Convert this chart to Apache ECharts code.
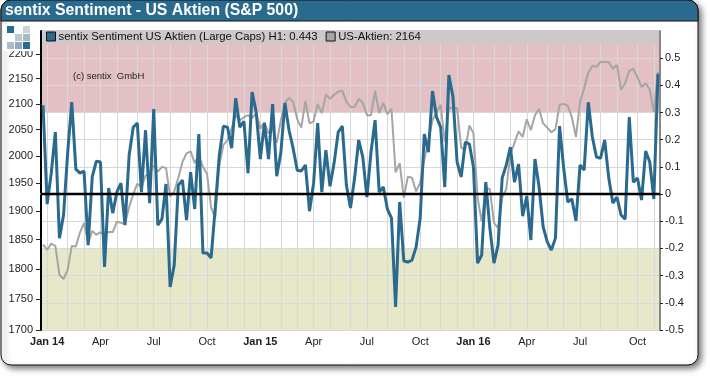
<!DOCTYPE html>
<html>
<head>
<meta charset="utf-8">
<title>sentix Sentiment - US Aktien (S&P 500)</title>
<script src="https://cdn.jsdelivr.net/npm/echarts@6/dist/echarts.min.js"></script>
<style>
  html, body { margin: 0; padding: 0; background: #fff; }
  #chart { width: 710px; height: 376px; }
</style>
</head>
<body>
<div id="chart"></div>
<script>
// weekly survey dates (Fridays), yy-mm-dd
const weeks = [
  '13-12-27',
  '14-01-03','14-01-10','14-01-17','14-01-24','14-01-31','14-02-07','14-02-14','14-02-21','14-02-28',
  '14-03-07','14-03-14','14-03-21','14-03-28','14-04-04','14-04-11','14-04-18','14-04-25','14-05-02',
  '14-05-09','14-05-16','14-05-23','14-05-30','14-06-06','14-06-13','14-06-20','14-06-27','14-07-04',
  '14-07-11','14-07-18','14-07-25','14-08-01','14-08-08','14-08-15','14-08-22','14-08-29','14-09-05',
  '14-09-12','14-09-19','14-09-26','14-10-03','14-10-10','14-10-17','14-10-24','14-10-31','14-11-07',
  '14-11-14','14-11-21','14-11-28','14-12-05','14-12-12','14-12-19','14-12-26',
  '15-01-02','15-01-09','15-01-16','15-01-23','15-01-30','15-02-06','15-02-13','15-02-20','15-02-27',
  '15-03-06','15-03-13','15-03-20','15-03-27','15-04-03','15-04-10','15-04-17','15-04-24','15-05-01',
  '15-05-08','15-05-15','15-05-22','15-05-29','15-06-05','15-06-12','15-06-19','15-06-26','15-07-03',
  '15-07-10','15-07-17','15-07-24','15-07-31','15-08-07','15-08-14','15-08-21','15-08-28','15-09-04',
  '15-09-11','15-09-18','15-09-25','15-10-02','15-10-09','15-10-16','15-10-23','15-10-30','15-11-06',
  '15-11-13','15-11-20','15-11-27','15-12-04','15-12-11','15-12-18','15-12-25',
  '16-01-01','16-01-08','16-01-15','16-01-22','16-01-29','16-02-05','16-02-12','16-02-19','16-02-26',
  '16-03-04','16-03-11','16-03-18','16-03-25','16-04-01','16-04-08','16-04-15','16-04-22','16-04-29',
  '16-05-06','16-05-13','16-05-20','16-05-27','16-06-03','16-06-10','16-06-17','16-06-24','16-07-01',
  '16-07-08','16-07-15','16-07-22','16-07-29','16-08-05','16-08-12','16-08-19','16-08-26','16-09-02',
  '16-09-09','16-09-16','16-09-23','16-09-30','16-10-07','16-10-14','16-10-21','16-10-28','16-11-04',
  '16-11-11'
];

const sentixValues = [
  0.327,-0.037,0.077,0.228,-0.162,-0.077,0.151,0.338,0.092,0.077,
  0.085,-0.188,0.063,0.121,0.118,-0.268,0.022,-0.070,0.007,0.040,
  -0.114,0.143,0.246,0.261,0.007,0.235,-0.033,0.313,-0.114,-0.092,
  0.037,-0.342,-0.261,0.033,0.051,-0.096,0.081,-0.055,0.221,-0.217,
  -0.217,-0.235,-0.051,0.143,0.250,0.246,0.169,0.353,0.246,0.268,
  0.077,0.375,0.301,0.129,0.261,0.129,0.331,0.066,0.151,0.335,
  0.235,0.169,0.088,0.085,0.107,-0.063,0.040,0.261,0.007,0.162,
  0.029,0.114,0.228,0.250,0.033,-0.051,0.059,0.199,0.136,-0.011,
  0.154,0.272,0.007,0.026,-0.055,-0.088,-0.415,-0.029,-0.246,-0.250,
  -0.243,-0.195,-0.088,0.221,0.154,0.379,0.283,0.246,0.026,0.438,
  0.357,0.118,0.063,0.191,0.184,0.099,-0.254,-0.224,0.044,-0.125,
  -0.254,-0.188,0.059,0.107,0.173,0.044,0.110,-0.081,-0.007,-0.169,
  0.129,0.026,-0.121,-0.176,-0.206,-0.162,0.250,0.096,-0.029,-0.018,
  -0.099,0.107,0.088,0.338,0.210,0.136,0.132,0.199,0.059,-0.033,
  -0.011,-0.077,-0.092,0.283,0.044,0.059,-0.022,0.158,0.118,-0.018,
  0.443
];

const spxValues = [
  1841,1832,1843,1839,1790,1783,1798,1839,1838,1862,
  1879,1843,1865,1858,1863,1858,1863,1863,1881,1879,
  1877,1907,1930,1949,1942,1964,1967,1983,1971,1980,
  1978,1926,1935,1960,1989,2005,2009,1987,2001,1980,
  1967,1906,1888,1983,2021,2030,2052,2078,2068,2074,
  2078,2072,2082,2052,2064,2043,2052,2025,2068,2102,
  2112,2104,2070,2054,2106,2062,2066,2100,2082,2118,
  2110,2118,2124,2126,2104,2094,2094,2110,2102,2078,
  2078,2126,2082,2102,2080,2090,1970,1987,1924,1962,
  1960,1935,1951,1993,2030,2068,2084,2098,2027,2092,
  2092,2092,2016,2012,2058,2043,1924,1881,1942,1939,
  1879,1870,1924,1939,2003,2025,2047,2036,2070,2049,
  2078,2090,2062,2054,2045,2051,2098,2100,2096,2074,
  2036,2104,2131,2162,2176,2174,2184,2184,2184,2170,
  2178,2128,2141,2166,2170,2153,2133,2141,2128,2084,
  2164
];

const spxTicks = [1700,1750,1800,1850,1900,1950,2000,2050,2100,2150,2200];
const sentixTicks = [0.5,0.4,0.3,0.2,0.1,0,-0.1,-0.2,-0.3,-0.4,-0.5];

// x axis labels, keyed by the first survey date of the quarter
const quarterLabels = {
  '14-01-03':'Jan 14','14-04-04':'Apr','14-07-04':'Jul','14-10-03':'Oct',
  '15-01-02':'Jan 15','15-04-03':'Apr','15-07-03':'Jul','15-10-02':'Oct',
  '16-01-01':'Jan 16','16-04-01':'Apr','16-07-01':'Jul','16-10-07':'Oct'
};

const TEAL = '#2a6a8e';
const sentixName = 'sentix Sentiment US Aktien (Large Caps) H1: ' + sentixValues[sentixValues.length - 1];
const spxName = 'US-Aktien: ' + spxValues[spxValues.length - 1];

function isMonthStart(idx) {
  return idx > 0 && weeks[idx].slice(0, 5) !== weeks[idx - 1].slice(0, 5);
}
function isQuarterStart(idx) {
  return quarterLabels[weeks[idx]] !== undefined;
}

// sentix logo, 3x3 blocks
function logoBlock(x, y, color) {
  return { type: 'rect', z: 8, shape: { x: x, y: y, width: 7, height: 7 }, style: { fill: color } };
}

const chart = echarts.init(document.getElementById('chart'));

const option = {
  animation: false,
  textStyle: { fontFamily: '"Liberation Sans", Arial, sans-serif' },
  title: {
    text: 'sentix Sentiment - US Aktien (S&P 500)',
    left: 5, top: 2, padding: 0, z: 12,
    textStyle: { color: '#fff', fontSize: 15.8, fontWeight: 'bold', lineHeight: 18 }
  },
  grid: { left: 41, right: 50, top: 31, bottom: 46 },
  legend: {
    left: 46, top: 31, padding: 0, itemGap: 8, z: 9,
    itemWidth: 9, itemHeight: 9,
    selectedMode: false,
    textStyle: { fontSize: 11.35, color: '#111', padding: [1, 0, 0, -2] },
    data: [
      { name: sentixName, icon: 'rect', itemStyle: { color: TEAL, borderColor: '#111', borderWidth: 1 } },
      { name: spxName, icon: 'rect', itemStyle: { color: '#a5a5a5', borderColor: '#111', borderWidth: 1 } }
    ]
  },
  xAxis: {
    type: 'category',
    data: weeks,
    boundaryGap: true,
    axisLine: { lineStyle: { color: '#888', width: 2 } },
    axisTick: { alignWithLabel: true, length: 3, lineStyle: { color: '#222' }, interval: function (i) { return isQuarterStart(i); } },
    axisLabel: {
      interval: function (i) { return isQuarterStart(i); },
      margin: 6,
      fontSize: 11,
      color: '#222',
      formatter: function (val) {
        const txt = quarterLabels[val] || '';
        return txt.indexOf('Jan') === 0 ? '{b|' + txt + '}' : txt;
      },
      rich: { b: { fontWeight: 'bold', fontSize: 11, color: '#222' } }
    },
    splitLine: {
      show: true,
      alignWithLabel: true,
      interval: function (i) { return isMonthStart(i); },
      lineStyle: { color: '#d8d8d8', width: 1 }
    }
  },
  yAxis: [
    {
      type: 'log',
      min: 1700,
      max: 2248,
      position: 'left',
      axisLine: { show: true, lineStyle: { color: '#000', width: 2 } },
      axisTick: { show: true, length: 5, customValues: spxTicks, lineStyle: { color: '#222' } },
      axisLabel: {
        customValues: spxTicks, margin: 8, fontSize: 11, color: '#222',
        formatter: function (v) { return String(Math.round(v)); }
      },
      splitLine: { show: false },
      minorTick: { show: false },
      minorSplitLine: { show: false }
    },
    {
      type: 'value',
      min: -0.5,
      max: 0.6,
      interval: 0.1,
      position: 'right',
      axisLine: { show: true, lineStyle: { color: '#888', width: 2 } },
      axisTick: { show: true, length: 3, customValues: sentixTicks, lineStyle: { color: '#222' } },
      axisLabel: { customValues: sentixTicks, margin: 5, fontSize: 11, color: '#222' },
      splitLine: { show: true, lineStyle: { color: '#d8d8d8', width: 1 } }
    }
  ],
  series: [
    {
      name: spxName,
      type: 'line',
      yAxisIndex: 0,
      data: spxValues,
      showSymbol: false,
      lineStyle: { color: '#a5a5a5', width: 2 },
      itemStyle: { color: '#a5a5a5' }
    },
    {
      name: sentixName,
      type: 'line',
      yAxisIndex: 1,
      data: sentixValues,
      showSymbol: false,
      lineStyle: { color: TEAL, width: 3 },
      itemStyle: { color: TEAL },
      markArea: {
        silent: true,
        z: -1,
        data: [
          [{ yAxis: 0.3, itemStyle: { color: '#e2c0c3' } }, { yAxis: 0.6 }],
          [{ yAxis: -0.5, itemStyle: { color: '#e7e8ca' } }, { yAxis: -0.2 }]
        ]
      },
      markLine: {
        silent: true,
        symbol: 'none',
        label: { show: false },
        lineStyle: { color: '#000', width: 2.4, type: 'solid' },
        data: [{ yAxis: 0 }]
      }
    }
  ],
  graphic: [
    // card + header
    { type: 'rect', z: -20, shape: { x: 1, y: 0, width: 697, height: 365, r: 10 },
      style: { fill: '#fff', stroke: '#111', lineWidth: 1, shadowBlur: 6, shadowOffsetX: 3, shadowOffsetY: 3, shadowColor: 'rgba(0,0,0,0.55)' } },
    { type: 'rect', z: -19, shape: { x: 1, y: 0, width: 697, height: 21, r: [10, 10, 0, 0] },
      style: { fill: TEAL, stroke: '#111', lineWidth: 1 } },
    // legend band
    { type: 'rect', z: 7, shape: { x: 42, y: 30, width: 617, height: 14 }, style: { fill: '#cdc8c9' } },
    // logo
    { type: 'rect', z: 7, shape: { x: 3, y: 24, width: 34, height: 27 }, style: { fill: '#fff' } },
    logoBlock(7, 26, TEAL), logoBlock(23, 26, '#c9d2d8'),
    logoBlock(15, 34, '#bcc8d0'), logoBlock(23, 34, '#a9b9c4'),
    logoBlock(7, 42, '#a9bcc9'), logoBlock(15, 42, '#93abba'), logoBlock(23, 42, TEAL),
    { type: 'text', z: 8, x: 73, y: 71,
      style: { text: '(c) sentix  GmbH', fill: '#222', font: '9.5px "Liberation Sans", Arial, sans-serif' } }
  ]
};

chart.setOption(option);
</script>
</body>
</html>
